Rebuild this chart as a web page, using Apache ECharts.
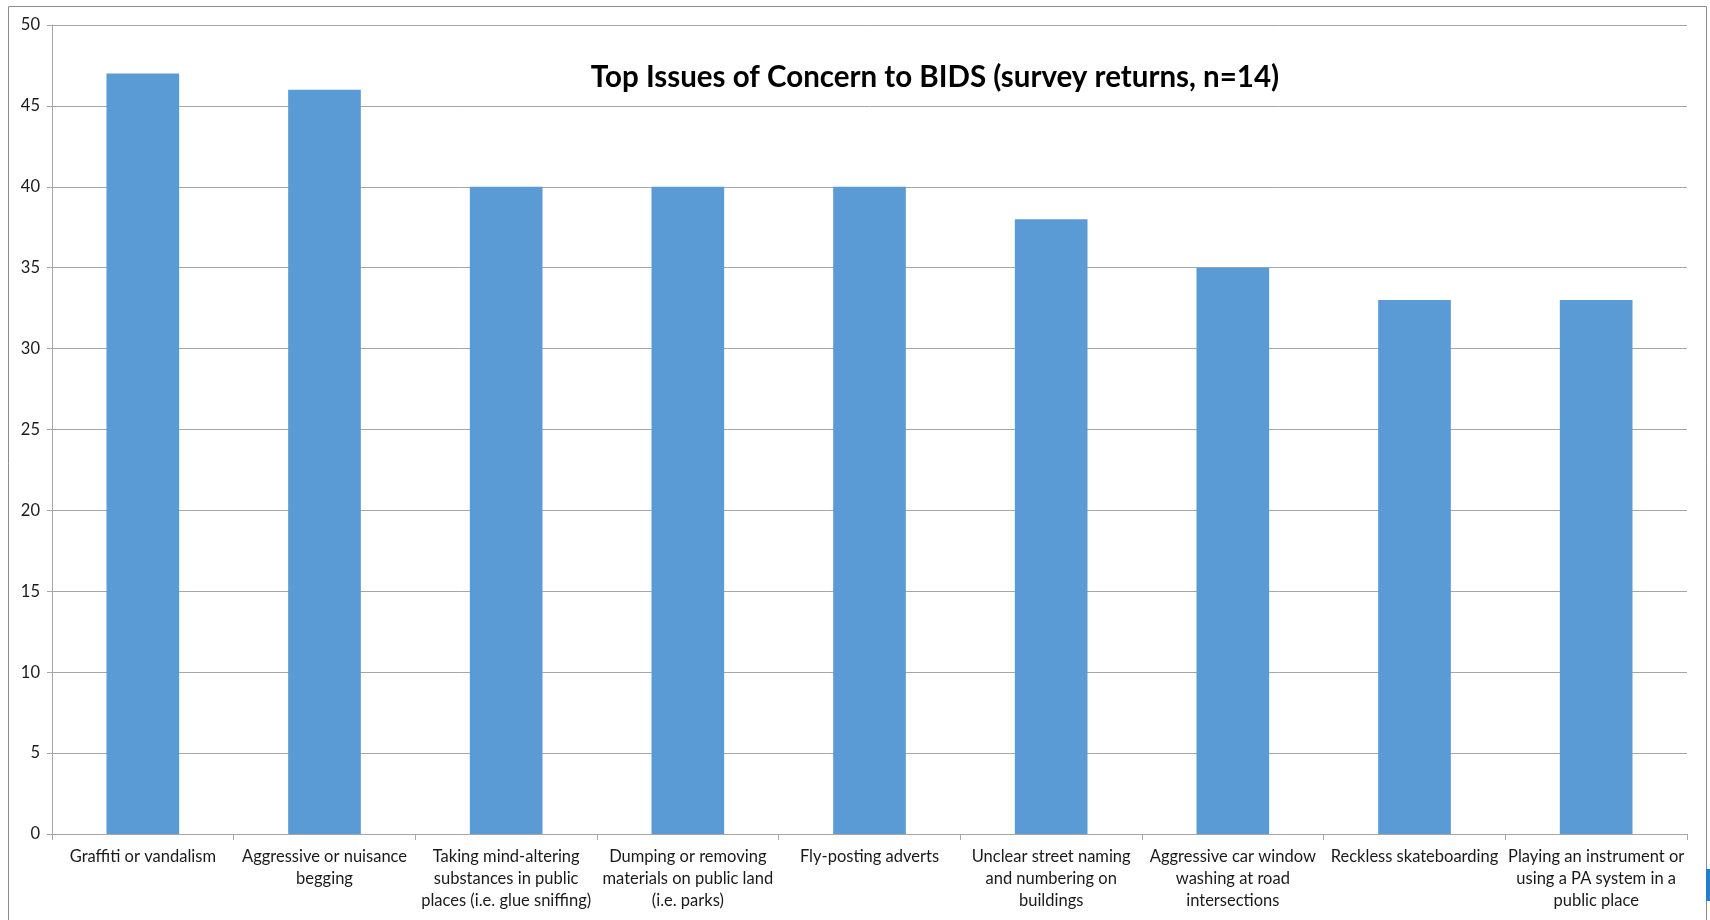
<!DOCTYPE html>
<html>
<head>
<meta charset="utf-8">
<script src="https://cdn.jsdelivr.net/npm/echarts@6/dist/echarts.min.js"></script>
<style>
html,body{margin:0;padding:0;background:#fff;}
#chart{width:1710px;height:920px;}
</style>
</head>
<body>
<div id="chart"></div>
<script>
const titleText = 'Top Issues of Concern to BIDS (survey returns, n=14)';
const categories = [
  'Graffiti or vandalism',
  'Aggressive or nuisance\nbegging',
  'Taking mind-altering\nsubstances in public\nplaces (i.e. glue sniffing)',
  'Dumping or removing\nmaterials on public land\n(i.e. parks)',
  'Fly-posting adverts',
  'Unclear street naming\nand numbering on\nbuildings',
  'Aggressive car window\nwashing at road\nintersections',
  'Reckless skateboarding',
  'Playing an instrument or\nusing a PA system in a\npublic place'
];
const values = [47, 46, 40, 40, 40, 38, 35, 33, 33];
const yMin = 0, yMax = 50, yStep = 5;

const chart = echarts.init(document.getElementById('chart'), null, {renderer:'canvas'});
const font = "Lato, 'Open Sans', sans-serif";
chart.setOption({
  animation:false,
  backgroundColor:'#fff',
  graphic:[{
    type:'rect', shape:{x:8.5,y:6.5,width:1698,height:930},
    style:{fill:'none',stroke:'#8c8c8c',lineWidth:1}, silent:true, z:-1
  },{
    type:'rect', shape:{x:1706,y:869,width:4,height:32},
    style:{fill:'#1f7fd0'}, silent:true
  }],
  title:{
    text:titleText, left:930, top:57, textAlign:'center',
    textStyle:{fontFamily:font, fontWeight:'bold', fontSize:29.5, color:'#000'}
  },
  grid:{left:52, right:23, top:25, bottom:86, containLabel:false},
  xAxis:{
    type:'category', data:categories,
    axisLine:{lineStyle:{color:'#a6a6a6'}},
    axisTick:{show:true, alignWithLabel:false, length:6, lineStyle:{color:'#a6a6a6'}},
    axisLabel:{interval:0, color:'#1a1a1a', fontFamily:font, fontSize:16.5, lineHeight:22, margin:12, align:'center'}
  },
  yAxis:{
    type:'value', min:yMin, max:yMax, interval:yStep,
    axisLine:{show:true, lineStyle:{color:'#a6a6a6'}},
    axisTick:{show:true, length:5, lineStyle:{color:'#a6a6a6'}},
    axisLabel:{color:'#1a1a1a', fontFamily:font, fontSize:16.5, margin:12},
    splitLine:{lineStyle:{color:'#a6a6a6', width:1}}
  },
  series:[{
    type:'bar', data:values, barWidth:'40%',
    itemStyle:{color:'#5b9bd5'}
  }]
});
</script>
</body>
</html>
